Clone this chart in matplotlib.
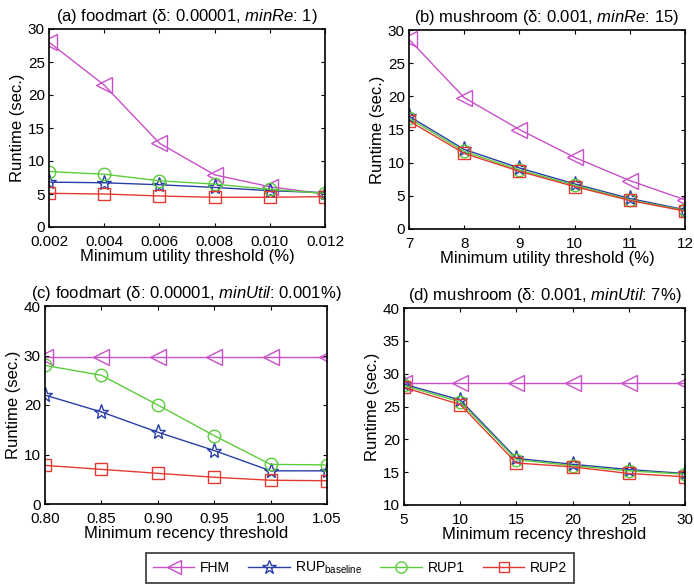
import matplotlib
matplotlib.use("Agg")
import matplotlib.pyplot as plt
import numpy as np

plt.rcParams['font.family'] = ['Liberation Sans', 'DejaVu Sans']
plt.rcParams['mathtext.fontset'] = 'custom'
plt.rcParams['mathtext.rm'] = 'Liberation Sans'
plt.rcParams['mathtext.it'] = 'Liberation Sans:italic'

#Series names and styles
names = ['FHM', r'RUP$_{\mathrm{baseline}}$', 'RUP1', 'RUP2']
colors = ['#c94fc9', '#2a3fa6', '#5ccc3c', '#e23a32']
markers = ['<', '*', 'o', 's']
sizes = [11, 11, 9, 8]

#Panel (a)
xa = [0.002, 0.004, 0.006, 0.008, 0.010, 0.012]
a_fhm = [28.0, 21.5, 12.7, 7.9, 6.1, 5.0]
a_base = [6.8, 6.7, 6.4, 6.0, 5.5, 5.2]
a_rup1 = [8.4, 8.0, 7.0, 6.5, 5.7, 5.1]
a_rup2 = [5.1, 5.0, 4.7, 4.5, 4.5, 4.6]
xa_labels = ['0.002', '0.004', '0.006', '0.008', '0.010', '0.012']

#Panel (b)
xb = [7, 8, 9, 10, 11, 12]
b_fhm = [28.6, 19.8, 15.0, 10.8, 7.3, 4.4]
b_base = [17.0, 12.0, 9.2, 6.8, 4.6, 2.9]
b_rup1 = [16.7, 11.7, 8.9, 6.6, 4.4, 2.8]
b_rup2 = [16.3, 11.4, 8.7, 6.4, 4.3, 2.7]

#Panel (c)
xc = [0.80, 0.85, 0.90, 0.95, 1.00, 1.05]
c_fhm = [29.7, 29.7, 29.7, 29.7, 29.7, 29.7]
c_base = [22.0, 18.6, 14.5, 10.8, 6.7, 6.7]
c_rup1 = [28.0, 26.0, 20.0, 13.8, 8.0, 7.9]
c_rup2 = [7.8, 7.0, 6.2, 5.4, 4.8, 4.7]
xc_labels = ['0.80', '0.85', '0.90', '0.95', '1.00', '1.05']

#Panel (d)
xd = [5, 10, 15, 20, 25, 30]
d_fhm = [28.6, 28.6, 28.6, 28.6, 28.6, 28.6]
d_base = [28.4, 26.0, 17.1, 16.2, 15.4, 14.8]
d_rup1 = [28.2, 25.7, 16.9, 16.0, 15.2, 14.7]
d_rup2 = [27.9, 25.3, 16.4, 15.8, 14.8, 14.3]

W, H = 694.0, 587.0
fig = plt.figure(figsize=(W/100, H/100), dpi=100)

def rect(l, t, r, b):
    return [l/W, 1-b/H, (r-l)/W, (b-t)/H]

panels = [
    (rect(49, 29, 325, 227), xa, [a_fhm, a_base, a_rup1, a_rup2],
     r'(a) foodmart (δ: 0.00001, $\mathit{minRe}$: 1)',
     'Minimum utility threshold (%)', (0, 30), np.arange(0, 31, 5), xa_labels),
    (rect(409, 30, 685, 229), xb, [b_fhm, b_base, b_rup1, b_rup2],
     r'(b) mushroom (δ: 0.001, $\mathit{minRe}$: 15)',
     'Minimum utility threshold (%)', (0, 30), np.arange(0, 31, 5), None),
    (rect(45, 306, 327, 504), xc, [c_fhm, c_base, c_rup1, c_rup2],
     r'(c) foodmart (δ: 0.00001, $\mathit{minUtil}$: 0.001%)',
     'Minimum recency threshold', (0, 40), np.arange(0, 41, 10), xc_labels),
    (rect(404, 308, 685, 505), xd, [d_fhm, d_base, d_rup1, d_rup2],
     r'(d) mushroom (δ: 0.001, $\mathit{minUtil}$: 7%)',
     'Minimum recency threshold', (10, 40), np.arange(10, 41, 5), None),
]

for r, x, series, title, xlabel, ylim, yticks, xlabels in panels:
    ax = fig.add_axes(r)
    for i, y in enumerate(series):
        ax.plot(x, y, color=colors[i], marker=markers[i], markersize=sizes[i],
                markerfacecolor='none', markeredgecolor=colors[i], linewidth=1.0,
                markeredgewidth=1.0, label=names[i])
    ax.set_xlim(x[0], x[-1])
    ax.set_ylim(*ylim)
    ax.set_yticks(yticks)
    ax.set_xticks(x)
    if xlabels is not None:
        ax.set_xticklabels(xlabels)
    ax.tick_params(direction='in', top=True, right=True, labelsize=11,
                   length=3, width=0.8)
    ax.tick_params(axis='x', pad=6)
    ax.tick_params(axis='y', pad=3)
    ax.set_title(title, fontsize=12, pad=6)
    ax.set_xlabel(xlabel, fontsize=12, labelpad=0)
    ax.set_ylabel('Runtime (sec.)', fontsize=12, labelpad=2)
    for s in ax.spines.values():
        s.set_linewidth(1.2)
    for lbl in ax.get_xticklabels() + ax.get_yticklabels():
        lbl.set_clip_on(False)

handles, labels = ax.get_legend_handles_labels()
leg = fig.legend(handles, labels, loc='center', bbox_to_anchor=(360/W, 1-568/H),
                 ncol=4, fontsize=10, frameon=True, fancybox=False, edgecolor='black',
                 handlelength=3.0, columnspacing=1.3, borderpad=0.5,
                 handletextpad=0.4, markerscale=0.9)
leg.get_frame().set_linewidth(1.2)

fig.savefig('out.png', dpi=100)
